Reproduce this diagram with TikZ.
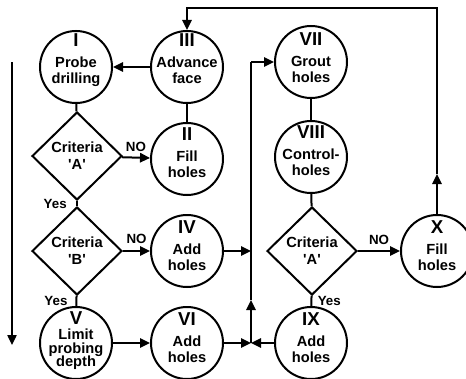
\documentclass[tikz,border=0pt]{standalone}
\usepackage{fontspec}
\setmainfont{Liberation Sans}
\usetikzlibrary{arrows.meta,shapes.geometric}
\newcommand{\stageno}[1]{{\fontsize{14}{14}\selectfont #1}}
\newcommand{\crit}[1]{Criteria\\\textquotesingle #1\textquotesingle}
\newcommand{\tightlines}{\fontsize{11}{10.2}\selectfont\lineskiplimit=-4pt\relax}

\begin{document}
\begin{tikzpicture}[
  x=0.75pt, y=-0.75pt,
  stage/.style={circle, draw, line width=1.5pt, minimum size=54pt, inner sep=0pt},
  stagetext/.style={anchor=north, inner sep=0pt, align=center, font=\bfseries\fontsize{11}{12}\selectfont},
  test/.style={diamond, draw, line width=1.5pt, minimum width=67.5pt, minimum height=66pt, inner sep=0pt, align=center, font=\bfseries\fontsize{11}{13}\selectfont},
  answer/.style={font=\bfseries\fontsize{10}{12}\selectfont, inner sep=1pt},
  link/.style={line width=1.5pt},
  flow/.style={line width=1.5pt, -{Triangle[length=7.5pt, width=7pt]}},
]
  \useasboundingbox (0,0) rectangle (466,378);

  % stages
  \node[stage] (s1) at (76,67) {};
  \node[stagetext] (t1) at (76,33) {\stageno{I}\\[4pt]Probe\\drilling};
  \node[stage] (s3) at (187,67) {};
  \node[stagetext] (t3) at (187,33) {\stageno{III}\\[4pt]Advance\\face};
  \node[stage] (s2) at (187,159) {};
  \node[stagetext] (t2) at (187,127) {\stageno{II}\\[4pt]Fill\\holes};
  \node[stage] (s4) at (187,251) {};
  \node[stagetext] (t4) at (187,220) {\stageno{IV}\\[4pt]Add\\holes};
  \node[stage] (s5) at (76,343) {};
  \node[stagetext, font=\bfseries\tightlines] (t5) at (76,311)
    {\stageno{V}\\[1.5pt]Limit\\probing\\depth};
  \node[stage] (s6) at (187,343) {};
  \node[stagetext] (t6) at (187,312) {\stageno{VI}\\[4pt]Add\\holes};
  \node[stage] (s7) at (311,62) {};
  \node[stagetext] (t7) at (311,32) {\stageno{VII}\\[4pt]Grout\\holes};
  \node[stage] (s8) at (311,157) {};
  \node[stagetext] (t8) at (311,125) {\stageno{VIII}\\[4pt]Control-\\holes};
  \node[stage] (s9) at (311,343) {};
  \node[stagetext] (t9) at (311,312) {\stageno{IX}\\[4pt]Add\\holes};
  \node[stage] (s10) at (437,251) {};
  \node[stagetext] (t10) at (437,220) {\stageno{X}\\[4pt]Fill\\holes};

  % decisions
  \node[test] (c1) at (77,156) {\crit{A}};
  \node[test] (c2) at (77,251) {\crit{B}};
  \node[test] (c3) at (312,251) {\crit{A}};

  % bends
  \coordinate (jb) at (251,343);
  \coordinate (ju) at (251,300);
  \coordinate (jt) at (251,62);
  \coordinate (xa) at (437,174);
  \coordinate (tr) at (437,8);
  \coordinate (lt) at (12,62);
  \coordinate (lb) at (12,345);

  \draw[flow] (s3) -- (s1);
  \draw[link] (s1) -- (c1);
  \draw[link] (s2) -- (s3);
  \draw[flow] (c1) -- node[answer, above=3pt] {NO} (s2);
  \draw[link] (c1) -- node[answer, left=6pt] {Yes} (c2);
  \draw[flow] (c2) -- node[answer, above=4pt] {NO} (s4);
  \draw[link] (c2) -- node[answer, left=5pt] {Yes} (s5);
  \draw[flow] (s5) -- (s6);
  \draw[flow] (s6) -- (jb);
  \draw[flow] (s9) -- (jb);
  \draw[flow] (s4) -- (s4 -| jb);
  \draw[flow] (jb) -- (ju);
  \draw[link] (ju) -- (jt);
  \draw[flow] (jt) -- (s7);
  \draw[link] (s7) -- (s8);
  \draw[link] (s8) -- (c3);
  \draw[flow] (c3) -- node[answer, above=3pt] {NO} (s10);
  \draw[link] (c3) -- node[answer, right=3pt] {Yes} (s9);
  \draw[flow] (s10) -- (xa);
  \draw[flow] (xa) -- (tr) -| (s3);
  \draw[flow, line width=1pt] (lt) -- (lb);
\end{tikzpicture}
\end{document}
